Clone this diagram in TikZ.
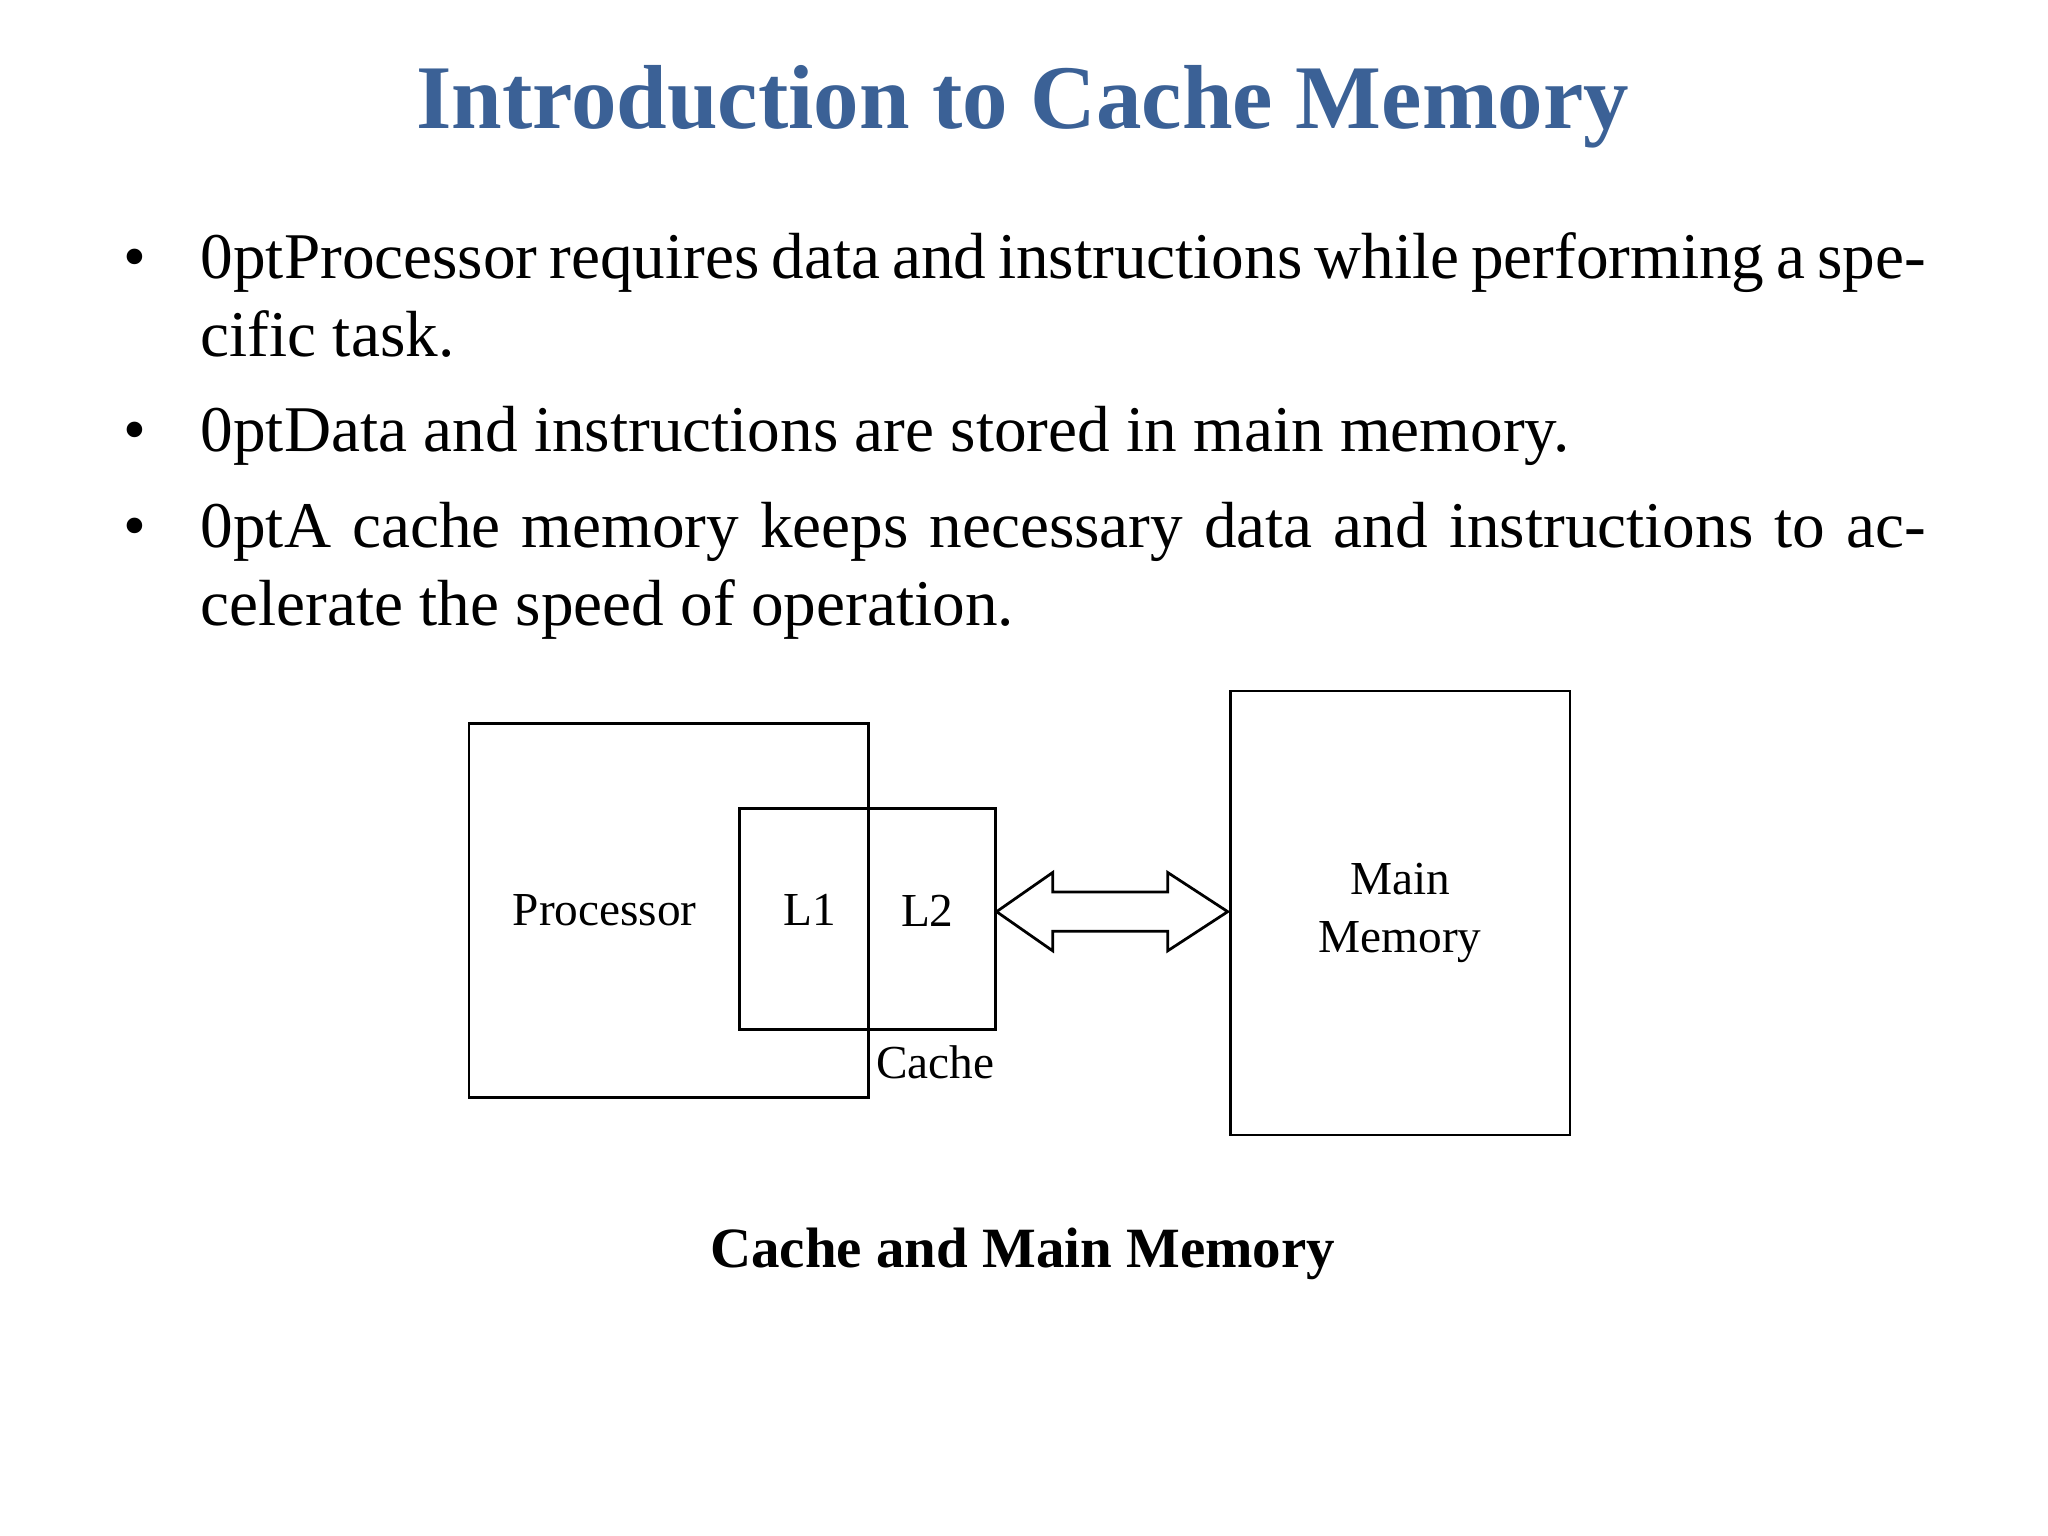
\documentclass[tikz,border=0pt]{standalone}
\usepackage{fontspec}
\setmainfont{Liberation Serif}
\usetikzlibrary{positioning}
\definecolor{titleblue}{HTML}{3B6196}

\begin{document}
\begin{tikzpicture}[x=0.01cm,y=-0.01cm,
  box/.style={draw,line width=0.6pt},
  lbl/.style={font=\fontsize{10.3}{12.5}\selectfont},
  item/.style={anchor=base west,text width=13.2cm,align=justify,inner sep=0pt,
    font=\fontsize{14.2}{17}\selectfont\hyphenpenalty=10000\exhyphenpenalty=10000},
  dot/.style={anchor=base,inner sep=0pt,font=\fontsize{14.2}{17}\selectfont}]
  \useasboundingbox (0,0) rectangle (1568,1176);
  % title and bullets
  \node[font=\fontsize{19.8}{24}\selectfont\bfseries,text=titleblue] (title) at (783,82) {Introduction to Cache Memory};
  \node[dot] (b1) at (103,213) {\textbullet};
  \node[item] (t1) at (153,213) {Processor requires data and instructions while performing a specific task.};
  \node[dot] (b2) at (103,346) {\textbullet};
  \node[item] (t2) at (153,346) {Data and instructions are stored in main memory.};
  \node[dot] (b3) at (103,419) {\textbullet};
  \node[item] (t3) at (153,419) {A cache memory keeps necessary data and instructions to accelerate the speed of operation.};
  % diagram
  \draw[box] (359,554) rectangle (665,840);
  \draw[box] (566,619) rectangle (762,788);
  \draw[box] (665,788) -- (665,840);
  \draw[box] (942,529) rectangle (1202,869);
  \node[lbl] (proc) at (463,697) {Processor};
  \node[lbl] (l1) at (620,697) {L1};
  \node[lbl] (l2) at (710,697) {L2};
  \node[lbl] (cache) at (716,813) {Cache};
  \node[lbl,align=center] (mem) at (1072,699) {Main\\Memory};
  % double arrow
  \draw[line width=0.6pt] (763,698) -- (806,668) -- (806,683) -- (894,683) -- (894,668)
    -- (940,698) -- (894,728) -- (894,713) -- (806,713) -- (806,728) -- cycle;
  \node[font=\fontsize{12.4}{15}\selectfont\bfseries] (caption) at (783,960) {Cache and Main Memory};
\end{tikzpicture}
\end{document}
